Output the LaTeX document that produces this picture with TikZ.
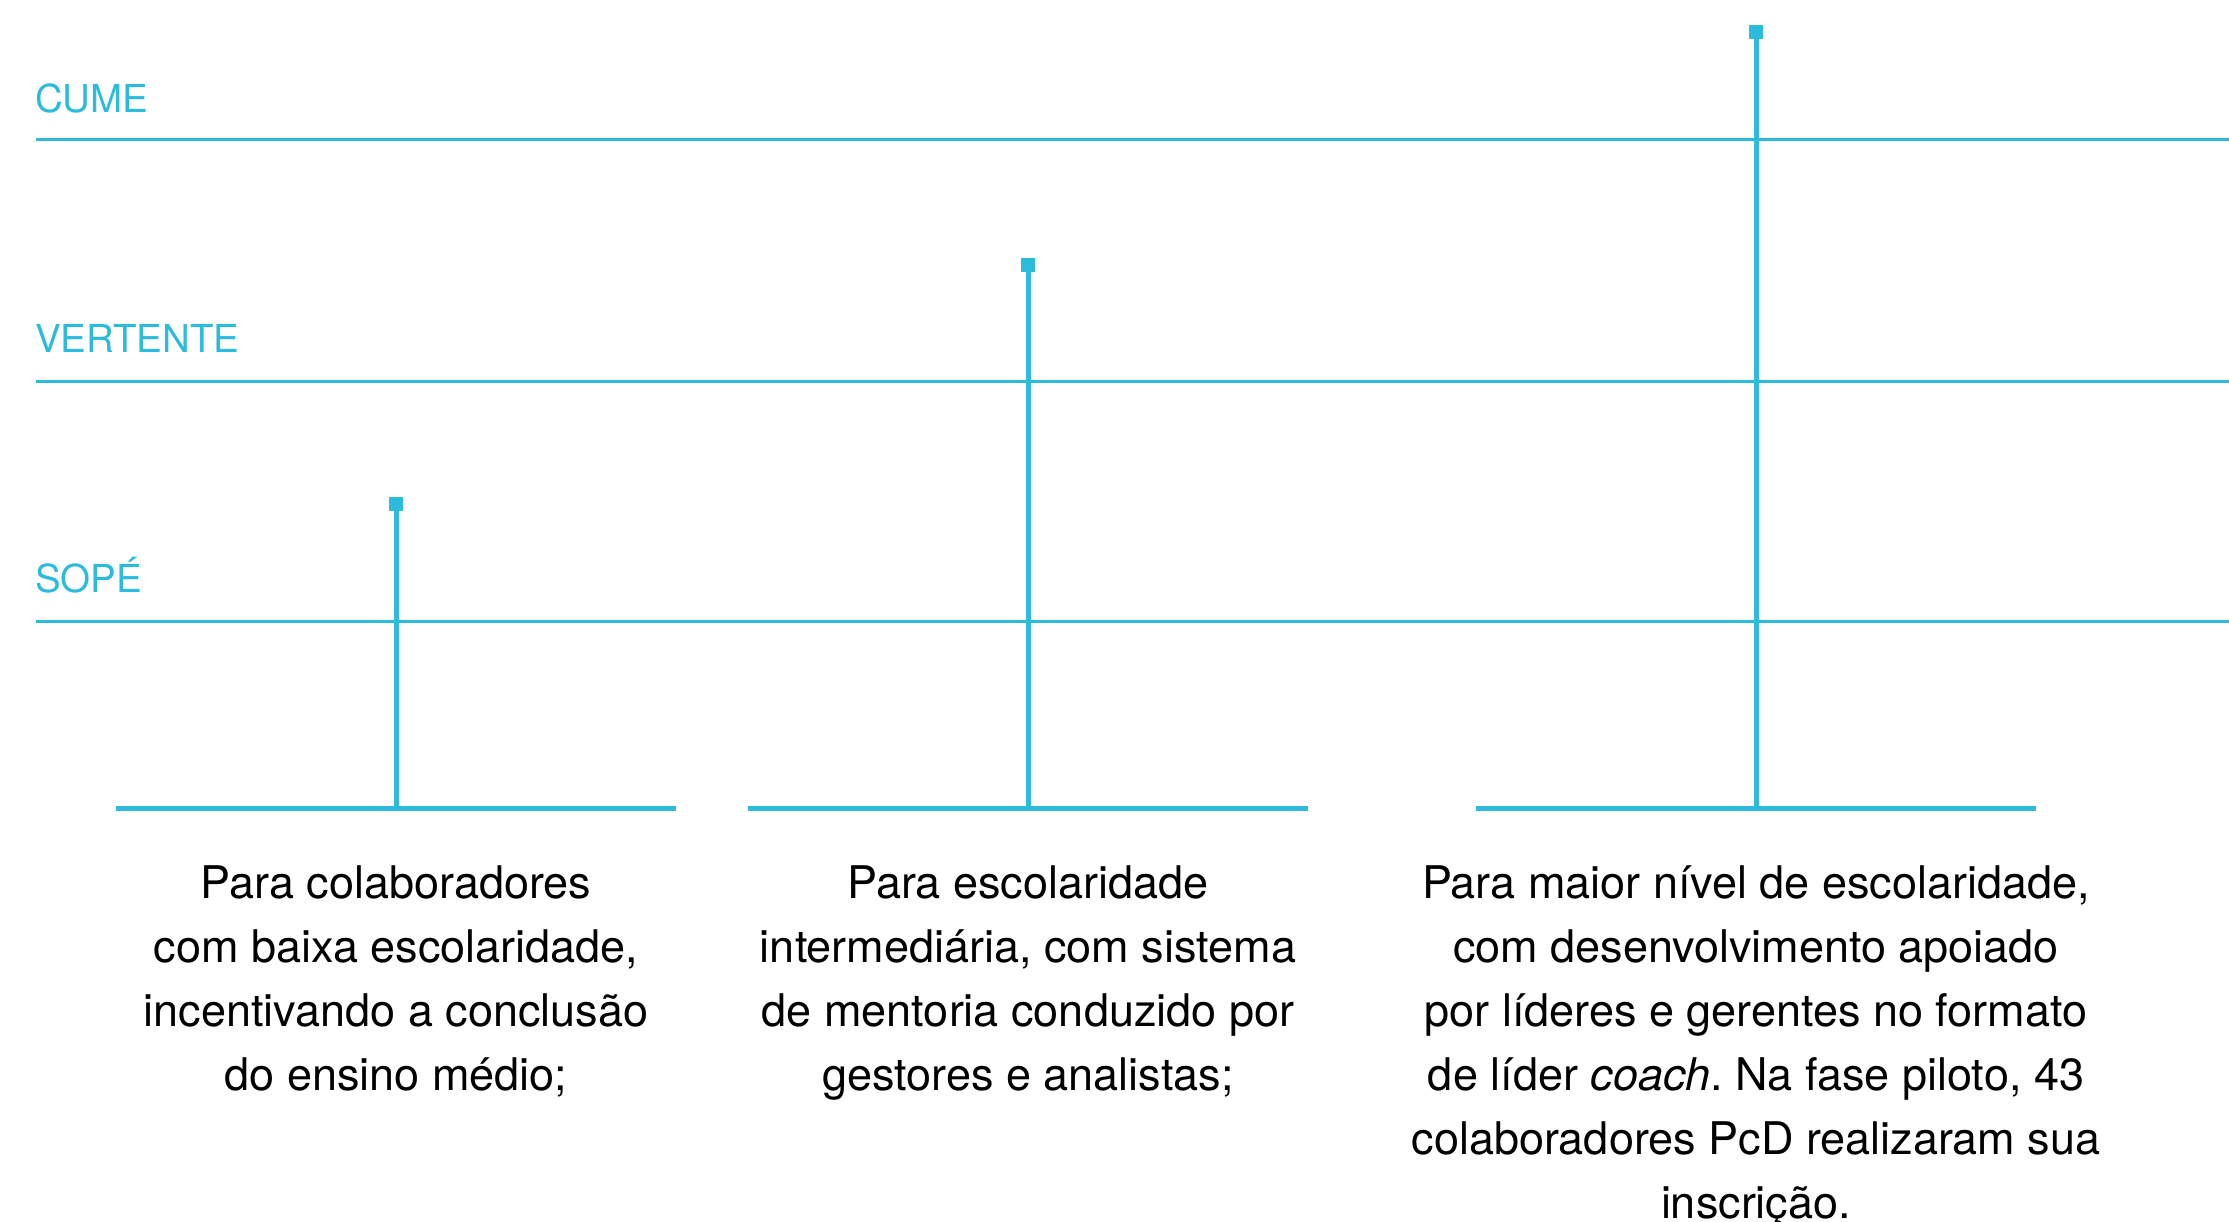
\documentclass[tikz,border=0pt]{standalone}
\usepackage{fontspec}
\setmainfont{TeX Gyre Heros}
\definecolor{skyc}{RGB}{44,187,221}
\frenchspacing
\begin{document}
\begin{tikzpicture}[x=1pt,y=-1pt,
  levelline/.style={draw=skyc,line width=3pt},
  levellabel/.style={anchor=base west,inner sep=0pt,text=skyc,font=\fontsize{38.5}{46}\selectfont},
  baseline/.style={draw=skyc,line width=5pt},
  stemline/.style={draw=skyc,line width=5pt},
  tipbox/.style={fill=skyc,draw=none,minimum size=14pt,inner sep=0pt,rectangle},
  desc/.style={anchor=base,inner sep=0pt,align=center,text=black,font=\fontsize{45}{64}\selectfont}]
\useasboundingbox (0,0) rectangle (2229,1221);
% level lines
\coordinate (c1) at (36,139);  \coordinate (c2) at (2229,139);
\coordinate (v1) at (36,381);  \coordinate (v2) at (2229,381);
\coordinate (s1) at (36,621);  \coordinate (s2) at (2229,621);
\draw[levelline] (c1) -- (c2);
\draw[levelline] (v1) -- (v2);
\draw[levelline] (s1) -- (s2);
\node[levellabel] (lcume) at (35,112) {CUME};
\node[levellabel] (lvert) at (35,352) {VERTENTE};
\node[levellabel] (lsope) at (35,592) {SOPÉ};
% bases
\coordinate (a1) at (116,808);  \coordinate (a2) at (676,808);
\coordinate (m1) at (748,808);  \coordinate (m2) at (1308,808);
\coordinate (r1) at (1476,808); \coordinate (r2) at (2036,808);
\draw[baseline] (a1) -- (a2);
\draw[baseline] (m1) -- (m2);
\draw[baseline] (r1) -- (r2);
% stems
\coordinate (b1) at (396,808);
\coordinate (b2) at (1028,808);
\coordinate (b3) at (1756,808);
\node[tipbox] (t1) at (396,504) {};
\node[tipbox] (t2) at (1028,265) {};
\node[tipbox] (t3) at (1756,32) {};
\draw[stemline] (b1) -- (t1.south);
\draw[stemline] (b2) -- (t2.south);
\draw[stemline] (b3) -- (t3.south);
% descriptions (anchor base = baseline of last line)
\node[desc] (d1) at (396,1090) {Para colaboradores\\com baixa escolaridade,\\incentivando a conclusão\\do ensino médio;};
\node[desc] (d2) at (1028,1090) {Para escolaridade\\intermediária, com sistema\\de mentoria conduzido por\\gestores e analistas;};
\node[desc] (d3) at (1756,1218) {Para maior nível de escolaridade,\\com desenvolvimento apoiado\\por líderes e gerentes no formato\\de líder \textit{coach}. Na fase piloto, 43\\colaboradores PcD realizaram sua\\inscrição.};
\end{tikzpicture}
\end{document}
